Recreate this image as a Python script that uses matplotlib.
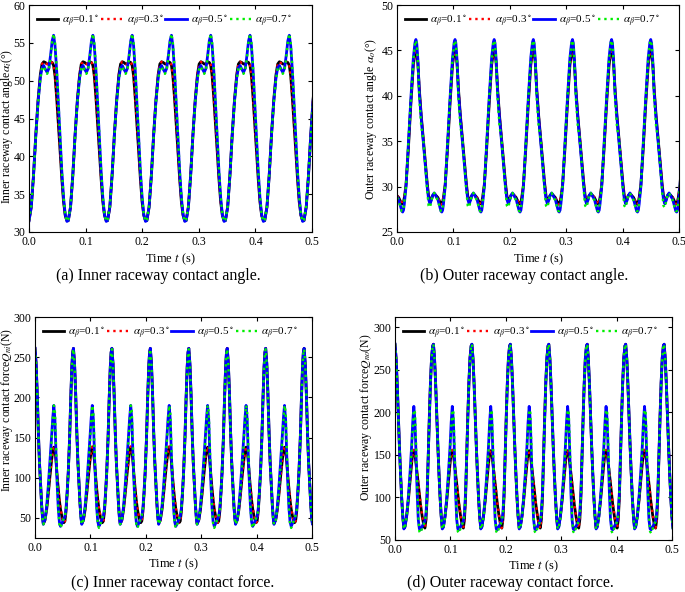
import matplotlib
matplotlib.use("Agg")
import matplotlib.pyplot as plt
import numpy as np

plt.rcParams["font.family"] = ["Liberation Serif", "DejaVu Serif"]
plt.rcParams["mathtext.fontset"] = "stix"

# one rotation period of the ball (s); curves below are one period
PERIOD = 0.0694
N_PERIODS = 8

labels = [r"$\alpha_\beta$=0.1$^\circ$", r"$\alpha_\beta$=0.3$^\circ$",
          r"$\alpha_\beta$=0.5$^\circ$", r"$\alpha_\beta$=0.7$^\circ$"]

# (a) inner raceway contact angle (deg)
t_a = [0.000, 0.004, 0.008, 0.012, 0.016, 0.020, 0.023, 0.026, 0.029, 0.032, 0.035,
       0.038, 0.041, 0.0435, 0.046, 0.049, 0.052, 0.055, 0.058, 0.061, 0.064, 0.067]
a_01 = [31.5, 33.3, 37.5, 42.8, 47.4, 50.8, 52.2, 52.5, 52.4, 52.2, 52.2,
        52.5, 52.4, 52.0, 50.6, 47.6, 44.2, 40.6, 37.0, 34.0, 32.2, 31.5]
a_03 = [31.5, 33.3, 37.5, 42.8, 47.4, 50.8, 52.2, 52.5, 52.3, 52.2, 52.3,
        52.5, 52.4, 52.1, 50.8, 47.8, 44.4, 40.8, 37.1, 34.1, 32.2, 31.5]
a_05 = [31.5, 33.3, 37.5, 42.8, 47.2, 50.4, 51.7, 52.0, 51.5, 51.1, 51.6,
        53.3, 55.3, 56.0, 54.6, 51.2, 46.8, 42.3, 38.0, 34.6, 32.3, 31.4]
a_07 = [31.6, 33.4, 37.4, 42.6, 47.0, 50.2, 51.6, 51.9, 51.3, 50.9, 51.4,
        53.0, 55.2, 56.2, 55.0, 51.6, 47.2, 42.6, 38.2, 34.7, 32.3, 31.4]

# (b) outer raceway contact angle (deg)
t_b = [0.000, 0.003, 0.006, 0.0085, 0.010, 0.0115, 0.013, 0.016, 0.020, 0.0245, 0.029,
       0.032, 0.0335, 0.035, 0.037, 0.0395, 0.043, 0.0465, 0.050, 0.0535, 0.056,
       0.0585, 0.061, 0.063, 0.066, 0.068]
b_01 = [29.0, 28.8, 28.4, 28.1, 28.1, 28.3, 28.8, 30.2, 34.0, 39.0, 43.4,
        44.8, 45.0, 44.8, 43.6, 40.8, 37.8, 35.3, 32.8, 30.4, 29.0,
        28.4, 28.6, 29.0, 29.2, 29.1]
b_03 = [29.0, 28.8, 28.4, 28.1, 28.0, 28.3, 28.8, 30.2, 34.1, 39.1, 43.5,
        44.9, 45.2, 44.9, 43.7, 40.8, 37.8, 35.3, 32.8, 30.4, 29.0,
        28.3, 28.6, 29.0, 29.2, 29.1]
b_05 = [28.9, 28.6, 27.9, 27.3, 27.2, 27.4, 28.1, 30.0, 34.5, 39.6, 44.2,
        45.9, 46.2, 45.8, 44.0, 40.4, 37.5, 35.0, 32.4, 30.0, 28.6,
        28.1, 28.5, 29.0, 29.3, 29.1]
b_07 = [28.8, 28.5, 27.8, 27.3, 27.3, 27.6, 28.3, 30.1, 34.6, 39.6, 44.0,
        45.8, 46.1, 45.7, 43.8, 39.8, 36.6, 35.3, 32.5, 29.6, 27.9,
        27.7, 28.4, 29.0, 29.3, 29.0]

# (c) inner raceway contact force (N)
t_c = [0.000, 0.002, 0.004, 0.006, 0.008, 0.010, 0.012, 0.0135, 0.015, 0.018, 0.021,
       0.024, 0.027, 0.030, 0.032, 0.034, 0.036, 0.038, 0.040, 0.042, 0.044, 0.046,
       0.049, 0.052, 0.054, 0.056, 0.058, 0.060, 0.0625, 0.0645, 0.0665, 0.068]
c_01 = [261, 242, 205, 158, 120, 92, 66, 52, 43, 47, 60,
        80, 102, 122, 133, 138, 134, 120, 102, 86, 72, 61,
        50, 44, 46, 58, 80, 106, 150, 198, 238, 256]
c_03 = [261, 242, 205, 158, 120, 92, 66, 52, 43, 47, 60,
        80, 103, 123, 134, 139, 135, 121, 103, 87, 73, 62,
        51, 44, 46, 58, 80, 106, 150, 198, 238, 256]
c_05 = [261, 242, 205, 158, 120, 92, 66, 50, 42, 48, 64,
        90, 120, 152, 174, 190, 172, 128, 92, 62, 45, 39.5,
        44, 49, 52, 62, 82, 106, 150, 198, 238, 256]
c_07 = [260, 241, 204, 157, 119, 91, 65, 50, 42, 47, 62,
        87, 116, 146, 170, 190, 182, 138, 96, 62, 42, 37.5,
        43, 50, 53, 60, 80, 104, 148, 196, 236, 255]

# (d) outer raceway contact force (N)
t_d = [0.000, 0.002, 0.004, 0.006, 0.008, 0.010, 0.012, 0.014, 0.016, 0.018, 0.021,
       0.024, 0.027, 0.030, 0.032, 0.034, 0.036, 0.038, 0.040, 0.042, 0.044, 0.046,
       0.049, 0.052, 0.054, 0.056, 0.058, 0.060, 0.062, 0.064, 0.066, 0.068]
d_01 = [280, 263, 233, 196, 160, 128, 100, 78, 64, 66, 78,
        96, 118, 140, 152, 155, 151, 140, 128, 116, 104, 92,
        78, 67, 64, 74, 100, 150, 196, 235, 264, 278]
d_03 = [280, 263, 233, 196, 160, 128, 100, 78, 64, 66, 78,
        97, 119, 141, 153, 156, 152, 141, 129, 117, 105, 93,
        79, 67, 64, 74, 100, 150, 196, 235, 264, 278]
d_05 = [280, 263, 233, 196, 160, 128, 100, 78, 63, 65, 78,
        100, 128, 160, 188, 207, 190, 150, 105, 74, 63, 62,
        66, 70, 72, 82, 106, 150, 196, 235, 264, 278]
d_07 = [280, 262, 232, 195, 159, 127, 99, 77, 63, 64, 77,
        98, 125, 155, 182, 203, 200, 162, 115, 78, 60, 58,
        64, 69, 72, 80, 104, 148, 194, 234, 263, 278]

panels = [
    dict(t=t_a, ys=[a_01, a_03, a_05, a_07], ylim=(30, 60), yticks=np.arange(30, 61, 5),
         ylabel=r"Inner raceway contact angle$\alpha_i$(°)",
         caption="(a) Inner raceway contact angle.",
         rect=[29, 5, 312, 232], ylab=(-0.051, 0.467), cap_x=158, cap_y=276),
    dict(t=t_b, ys=[b_01, b_03, b_05, b_07], ylim=(25, 50), yticks=np.arange(25, 51, 5),
         ylabel=r"Outer raceway contact angle $\alpha_o$(°)",
         caption="(b) Outer raceway contact angle.",
         rect=[397, 5, 679, 232], ylab=(-0.064, 0.498), cap_x=524, cap_y=276),
    dict(t=t_c, ys=[c_01, c_03, c_05, c_07], ylim=(25, 300), yticks=np.arange(50, 301, 50),
         ylabel=r"Inner raceway contact force$Q_{ni}$(N)",
         caption="(c) Inner raceway contact force.",
         rect=[35, 317, 312, 538], ylab=(-0.073, 0.579), cap_x=173, cap_y=583),
    dict(t=t_d, ys=[d_01, d_03, d_05, d_07], ylim=(50, 312), yticks=np.arange(50, 301, 50),
         ylabel=r"Outer raceway contact force$Q_{no}$(N)",
         caption="(d) Outer raceway contact force.",
         rect=[395, 317, 672, 540], ylab=(-0.077, 0.55), cap_x=510, cap_y=583),
]

styles = [
    dict(color="black", ls="-", lw=2.0),
    dict(color="#ff0000", ls=":", lw=1.7),
    dict(color="#0000ff", ls="-", lw=2.0),
    dict(color="#00ee00", ls=":", lw=1.7),
]

W, H = 685, 592


def tile(t, y):
    t = np.asarray(t)
    tt = np.concatenate([t + k * PERIOD for k in range(N_PERIODS)])
    yy = np.tile(np.asarray(y, dtype=float), N_PERIODS)
    return tt, yy


def main():
    fig = plt.figure(figsize=(W / 100, H / 100), dpi=100)

    for p in panels:
        x0, y0, x1, y1 = p["rect"]
        ax = fig.add_axes([x0 / W, (H - y1) / H, (x1 - x0) / W, (y1 - y0) / H])
        for y, st, lab in zip(p["ys"], styles, labels):
            tt, yy = tile(p["t"], y)
            ax.plot(tt, yy, label=lab, **st)

        ax.set_xlim(0, 0.5)
        ax.set_ylim(*p["ylim"])
        ax.set_xticks(np.arange(0, 0.51, 0.1))
        ax.set_xticklabels([f"{v:.1f}" for v in np.arange(0, 0.51, 0.1)])
        ax.set_yticks(p["yticks"])
        ax.tick_params(direction="in", top=True, right=True, length=3, width=0.8,
                       labelsize=8.5, pad=3)
        ax.tick_params(axis="y", pad=2.5)
        for s in ax.spines.values():
            s.set_linewidth(0.8)

        ax.set_xlabel(r"Time $t$ (s)", fontsize=9)
        ax.xaxis.set_label_coords(0.5, -0.085)
        ax.set_ylabel(p["ylabel"], fontsize=8.5)
        ax.yaxis.set_label_coords(*p["ylab"])

        ax.legend(loc="upper left", bbox_to_anchor=(0.0, 1.0), ncol=4, frameon=False,
                  fontsize=8, handlelength=1.9, handletextpad=0.4, columnspacing=0.2,
                  borderaxespad=0.3)

        fig.text(p["cap_x"] / W, (H - p["cap_y"]) / H, p["caption"], fontsize=11.5,
                 ha="center", va="center")

    fig.savefig("out.png", dpi=100)


if __name__ == "__main__":
    main()
